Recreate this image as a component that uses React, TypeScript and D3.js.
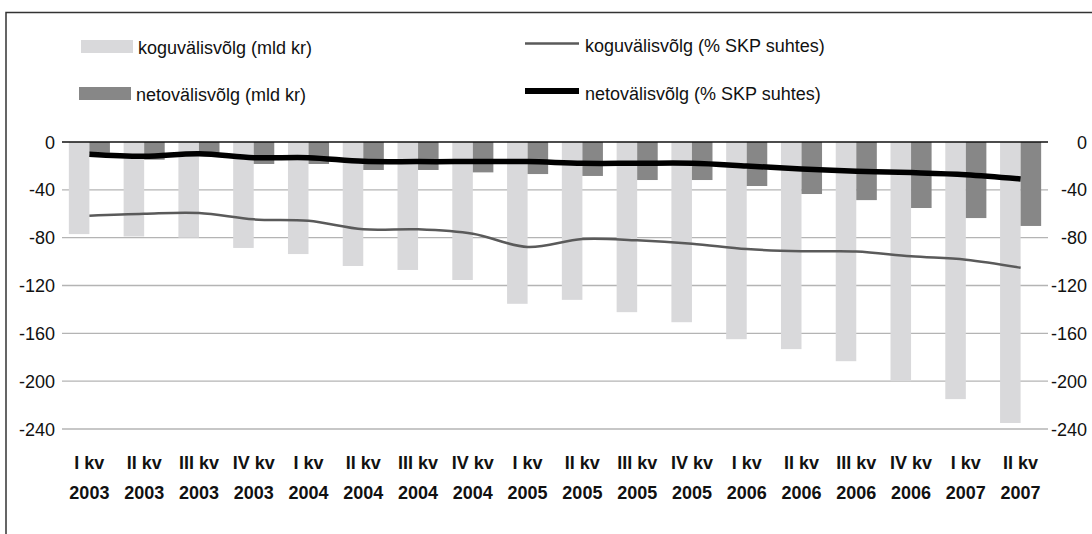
import React from "react";
import * as d3 from "d3";

const quarters = ["I kv", "II kv", "III kv", "IV kv", "I kv", "II kv", "III kv", "IV kv", "I kv", "II kv", "III kv", "IV kv", "I kv", "II kv", "III kv", "IV kv", "I kv", "II kv"];
const years = ["2003", "2003", "2003", "2003", "2004", "2004", "2004", "2004", "2005", "2005", "2005", "2005", "2006", "2006", "2006", "2006", "2007", "2007"];
const grossDebt = [-77, -79, -80, -88.6, -93.7, -103.7, -107, -115.4, -135.3, -132, -142.3, -150.7, -164.9, -173.2, -183.3, -200, -215, -235];
const netDebt = [-9, -14.8, -10, -18.4, -18.4, -23.4, -23.4, -25.4, -26.8, -28.4, -31.8, -31.8, -36.8, -43.5, -48.6, -55.2, -63.6, -70.2];
const grossPct = [-61.6, -60, -59.4, -64.7, -65.9, -73, -73, -76.7, -87.8, -81.1, -82.2, -85, -89.5, -91.4, -91.5, -95.6, -98.4, -105.1];
const netPct = [-10.3, -12, -9.8, -13.1, -13.1, -16.2, -16.4, -16.4, -16.4, -17.8, -17.8, -17.8, -20, -22.6, -24.5, -25.6, -27.3, -30.9];
const yTicks = [0, -40, -80, -120, -160, -200, -240];
const legendBars = ["koguvälisvõlg (mld kr)", "netovälisvõlg (mld kr)"];
const legendLines = ["koguvälisvõlg (% SKP suhtes)", "netovälisvõlg (% SKP suhtes)"];

const FONT = "'Liberation Sans', Arial, Helvetica, sans-serif";

export default function App() {
  const W = 1092, H = 534;
  const left = 62, right = 1048, top = 142, bottom = 429;
  const idx = quarters.map((_, i) => i);
  const x = d3.scaleBand<number>().domain(idx).range([left, right]).paddingInner(0.25).paddingOuter(0.125);
  const sub = d3.scaleBand<number>().domain([0, 1]).range([0, x.bandwidth()]);
  const y = d3.scaleLinear().domain([0, -240]).range([top, bottom]);
  const cx = (i: number) => (x(i) as number) + x.bandwidth() / 2;
  const line = d3.line<number>().x((_, i) => cx(i)).y((d) => y(d)).curve(d3.curveCatmullRom.alpha(0.5));

  return (
    <svg width={W} height={H} style={{ position: "absolute", left: 0, top: 0, background: "#fff" }} fontFamily={FONT}>
      <rect x={0} y={0} width={W} height={H} fill="#fff" />
      <rect x={6} y={12.5} width={W + 20} height={H + 20} fill="none" stroke="#333" strokeWidth={1.5} />
      {yTicks.filter((t) => t !== 0).map((t) => (
        <line key={t} x1={left} x2={right} y1={y(t)} y2={y(t)} stroke="#b4b4b4" strokeWidth={1.3} />
      ))}
      {grossDebt.map((v, i) => (
        <rect key={"g" + i} x={(x(i) as number) + (sub(0) as number)} y={y(0)} width={sub.bandwidth()} height={y(v) - y(0)} fill="#d9d9db" />
      ))}
      {netDebt.map((v, i) => (
        <rect key={"n" + i} x={(x(i) as number) + (sub(1) as number)} y={y(0)} width={sub.bandwidth()} height={y(v) - y(0)} fill="#878787" />
      ))}
      <line x1={left} x2={right} y1={y(0)} y2={y(0)} stroke="#111" strokeWidth={1.3} />
      <path d={line(grossPct) || ""} fill="none" stroke="#5a5a5a" strokeWidth={2.5} />
      <path d={line(netPct) || ""} fill="none" stroke="#000" strokeWidth={5.5} />
      {yTicks.map((t) => (
        <text key={"l" + t} x={55} y={y(t) + 6.5} textAnchor="end" fontSize={18} fill="#111">{t}</text>
      ))}
      {yTicks.map((t) => (
        <text key={"r" + t} x={1087} y={y(t) + 6.5} textAnchor="end" fontSize={18} fill="#111">{t}</text>
      ))}
      {idx.map((i) => (
        <g key={"x" + i}>
          <text x={cx(i)} y={469} textAnchor="middle" fontSize={18} fontWeight="bold" fill="#111">{quarters[i]}</text>
          <text x={cx(i)} y={499} textAnchor="middle" fontSize={18} fontWeight="bold" fill="#111">{years[i]}</text>
        </g>
      ))}
      <rect x={81} y={40} width={52} height={13} fill="#d9d9db" />
      <text x={138} y={54} fontSize={18} fill="#111">{legendBars[0]}</text>
      <rect x={79} y={87} width={52} height={13} fill="#878787" />
      <text x={136} y={101} fontSize={18} fill="#111">{legendBars[1]}</text>
      <line x1={525} x2={579} y1={43.5} y2={43.5} stroke="#5a5a5a" strokeWidth={2.5} />
      <text x={585} y={52} fontSize={18} fill="#111">{legendLines[0]}</text>
      <line x1={525} x2={579} y1={91} y2={91} stroke="#000" strokeWidth={6} />
      <text x={585} y={100} fontSize={18} fill="#111">{legendLines[1]}</text>
    </svg>
  );
}
